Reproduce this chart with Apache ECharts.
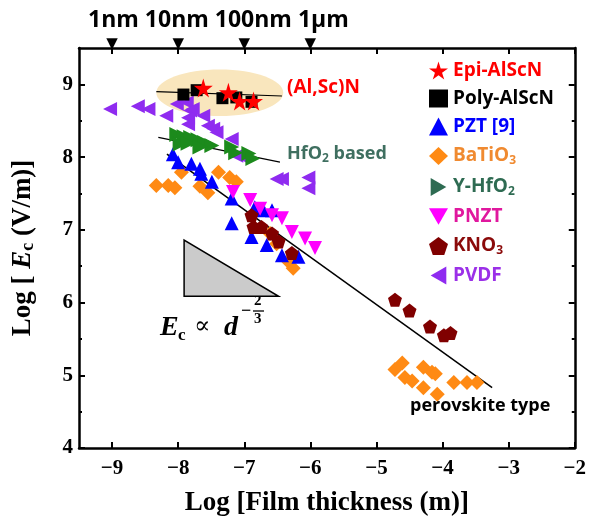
<!DOCTYPE html>
<html>
<head>
<meta charset="utf-8">
<script src="https://cdn.jsdelivr.net/npm/echarts@6/dist/echarts.min.js"></script>
<style>
  html, body { margin: 0; padding: 0; background: #fff; }
  #main { width: 589px; height: 522px; }
</style>
</head>
<body>
<div id="main"></div>
<script>
// axis ticks
var xTicks = [-9, -8, -7, -6, -5, -4, -3, -2];
var yTicks = [4, 5, 6, 7, 8, 9];
var topMarks = [-9, -8, -7, -6];
var topText = '1nm 10nm 100nm 1μm';

// data (log thickness, log Ec)
var epiX = [-7.62, -7.24, -7.07, -6.86];
var epiY = [8.95, 8.89, 8.77, 8.77];
var polyX = [-7.92, -7.72, -7.33, -7.12, -6.89];
var polyY = [8.86, 8.92, 8.81, 8.82, 8.76];
var pztX = [-8.08, -8.00, -7.80, -7.67, -7.65, -7.49, -7.19, -6.84, -6.71, -6.58, -7.19, -6.89, -6.66, -6.43, -6.18];
var pztY = [8.04, 7.93, 7.91, 7.84, 7.77, 7.66, 7.43, 7.31, 7.27, 7.27, 7.09, 6.90, 6.79, 6.65, 6.63];
var batX = [-8.33, -8.15, -8.05, -7.95, -7.67, -7.55, -7.39, -7.22, -7.12, -6.61, -6.51, -6.33, -6.26,
            -4.61, -4.72, -4.57, -4.46, -4.29, -4.16, -4.11, -4.29, -4.08, -3.83, -3.63, -3.48];
var batY = [7.61, 7.61, 7.58, 7.79, 7.60, 7.51, 7.79, 7.72, 7.66, 6.95, 6.81, 6.56, 6.47,
            5.17, 5.08, 4.97, 4.92, 5.11, 5.04, 5.02, 4.83, 4.74, 4.90, 4.90, 4.90];
var hfX = [-8.02, -7.91, -7.81, -7.70, -7.60, -7.49, -7.19, -7.13, -6.93, -6.87, -7.97, -7.85, -7.67];
var hfY = [8.31, 8.28, 8.27, 8.24, 8.20, 8.16, 8.14, 8.06, 8.05, 7.98, 8.18, 8.19, 8.14];
var pnztX = [-7.17, -6.91, -6.76, -6.58, -6.43, -6.28, -6.08, -5.93];
var pnztY = [7.52, 7.41, 7.29, 7.20, 7.16, 6.97, 6.88, 6.75];
var knoX = [-6.89, -6.86, -6.74, -6.58, -6.48, -6.28, -4.72, -4.50, -4.19, -3.98, -3.88];
var knoY = [7.20, 7.04, 7.04, 6.95, 6.84, 6.68, 6.04, 5.89, 5.67, 5.55, 5.58];
var pvdfX = [-9.03, -8.61, -8.45, -8.18, -8.02, -7.87, -7.82, -7.85, -7.78, -7.62, -7.85, -7.55, -7.47,
             -7.42, -7.19, -7.12, -7.07, -6.51, -6.43, -6.03, -6.03];
var pvdfY = [8.66, 8.70, 8.66, 8.57, 8.73, 8.75, 8.64, 8.54, 8.66, 8.57, 8.45, 8.43, 8.39,
             8.34, 8.25, 8.02, 8.02, 7.70, 7.70, 7.72, 7.57];

// guide lines
var alscnLineX = [-8.33, -6.43], alscnLineY = [8.90, 8.84];
var hfLineX = [-8.30, -6.46], hfLineY = [8.27, 7.93];
var perovLineX = [-8.17, -3.25], perovLineY = [8.04, 4.83];

// highlight ellipse (center x, center y, half width, half height)
var ellipse = [-7.37, 8.885, 0.96, 0.32];
// slope triangle
var slopeTriX = [-7.91, -7.91, -6.48];
var slopeTriY = [6.86, 6.085, 6.085];

function pairs(xs, ys) {
  return xs.map(function (x, i) { return [x, ys[i]]; });
}

var STAR = 'path://M50,0 L61,35 L98,35 L68,57 L79,91 L50,70 L21,91 L32,57 L2,35 L39,35 Z';
var DOWN = 'path://M0,0 L100,0 L50,87 Z';
var RIGHT = 'path://M0,0 L87,50 L0,100 Z';
var LEFT = 'path://M87,0 L0,50 L87,100 Z';
var PENT = 'path://M50,0 L98,35 L79,91 L21,91 L2,35 Z';

var serif = '"Liberation Serif", "DejaVu Serif", serif';
var sans = '"Open Sans", "Noto Sans", sans-serif';

var chart = echarts.init(document.getElementById('main'));

function scat(name, xs, ys, symbol, size, color, z) {
  return {
    name: name, type: 'scatter', data: pairs(xs, ys),
    symbol: symbol, symbolSize: size, z: z || 3,
    itemStyle: { color: color, opacity: 1 }
  };
}
function guide(xs, ys, width) {
  return {
    type: 'line', data: pairs(xs, ys), symbol: 'none', z: 2,
    lineStyle: { color: '#000', width: width }, silent: true
  };
}

var legendNames = ['Epi-AlScN', 'Poly-AlScN', 'PZT [9]', 'BaTiO3', 'Y-HfO2', 'PNZT', 'KNO3', 'PVDF'];
var legendColors = ['#ff0000', '#000000', '#0000ff', '#f08a30', '#2e6b52', '#e0189e', '#8b0a0a', '#9b30e8'];

var option = {
  animation: false,
  grid: { left: 79, right: 14, top: 48, bottom: 74 },
  legend: {
    orient: 'vertical', left: 424, top: 56,
    itemWidth: 19, itemHeight: 18, itemGap: 9,
    data: legendNames.map(function (n, i) {
      var d = { name: n, textStyle: { color: legendColors[i] } };
      if (n === 'Y-HfO2') d.itemStyle = { color: '#2e6b52' };
      return d;
    }),
    formatter: function (n) {
      return '{a|' + n.replace(/O3$/, 'O}{s|3}').replace(/O2$/, 'O}{s|2}') + (/O[23]$/.test(n) ? '' : '}');
    },
    textStyle: {
      rich: {
        a: { fontFamily: sans, fontWeight: 'bold', fontSize: 19, lineHeight: 18 },
        s: { fontFamily: sans, fontWeight: 'bold', fontSize: 12, lineHeight: 18, padding: [10, 0, 0, 0] }
      }
    }
  },
  xAxis: [{
    type: 'value', min: -9.5, max: -2, interval: 1,
    axisLine: { lineStyle: { color: '#000', width: 2.5 } },
    axisTick: { inside: true, length: 6, lineStyle: { width: 2 }, customValues: xTicks },
    minorTick: { show: true, splitNumber: 2, length: 3, lineStyle: { color: '#000', width: 2 } },
    splitLine: { show: false },
    axisLabel: {
      customValues: xTicks, margin: 10,
      fontFamily: serif, fontWeight: 'bold', fontSize: 21, color: '#000',
      formatter: function (v) { return '\u2212' + Math.abs(v); }
    },
    name: 'Log [Film thickness (m)]', nameLocation: 'middle', nameGap: 42,
    nameTextStyle: { fontFamily: serif, fontWeight: 'bold', fontSize: 27, color: '#000' }
  }, {
    type: 'value', position: 'top', min: -9.5, max: -2, interval: 1,
    axisLine: { lineStyle: { color: '#000', width: 2.5 } },
    axisTick: { inside: true, length: 6, lineStyle: { width: 2 }, customValues: xTicks },
    minorTick: { show: true, splitNumber: 2, length: 3, lineStyle: { color: '#000', width: 2 } },
    splitLine: { show: false },
    axisLabel: {
      customValues: topMarks, margin: -3,
      formatter: function () { return '{m|\u25BC}'; },
      rich: { m: { fontFamily: '"DejaVu Sans"', fontSize: 15, color: '#000', lineHeight: 14 } }
    }
  }],
  yAxis: [{
    type: 'value', min: 4, max: 9.5, interval: 1,
    axisLine: { lineStyle: { color: '#000', width: 2.5 } },
    axisTick: { inside: true, length: 6, lineStyle: { width: 2 }, customValues: yTicks },
    minorTick: { show: true, splitNumber: 2, length: 3, lineStyle: { color: '#000', width: 2 } },
    splitLine: { show: false },
    axisLabel: {
      customValues: yTicks, margin: 6,
      fontFamily: serif, fontWeight: 'bold', fontSize: 21, color: '#000'
    },
    name: '{a|Log [ }{e|E}{c|c}{a| (V/m)]}', nameLocation: 'middle', nameGap: 42,
    nameTextStyle: {
      rich: {
        a: { fontFamily: serif, fontWeight: 'bold', fontSize: 27, color: '#000' },
        e: { fontFamily: serif, fontWeight: 'bold', fontStyle: 'italic', fontSize: 27, color: '#000' },
        c: { fontFamily: serif, fontWeight: 'bold', fontSize: 18, color: '#000', padding: [10, 0, 0, 0] }
      }
    }
  }, {
    type: 'value', position: 'right', min: 4, max: 9.5, interval: 1,
    axisLine: { lineStyle: { color: '#000', width: 2.5 } },
    axisTick: { inside: true, length: 6, lineStyle: { width: 2 }, customValues: yTicks },
    minorTick: { show: true, splitNumber: 2, length: 3, lineStyle: { color: '#000', width: 2 } },
    splitLine: { show: false },
    axisLabel: { show: false }
  }],
  series: [
    {
      type: 'custom', silent: true, z: 1,
      renderItem: function (params, api) {
        var c = api.coord([ellipse[0], ellipse[1]]);
        var e = api.coord([ellipse[0] + ellipse[2], ellipse[1] + ellipse[3]]);
        return {
          type: 'ellipse',
          shape: { cx: c[0], cy: c[1], rx: Math.abs(e[0] - c[0]), ry: Math.abs(e[1] - c[1]) },
          style: { fill: '#f9e6bd' }
        };
      },
      data: [0]
    },
    {
      type: 'custom', silent: true, z: 1,
      renderItem: function (params, api) {
        var pts = slopeTriX.map(function (x, i) { return api.coord([x, slopeTriY[i]]); });
        return {
          type: 'polygon', shape: { points: pts },
          style: { fill: '#cbcbcb', stroke: '#000', lineWidth: 1.5 }
        };
      },
      data: [0]
    },
    guide(alscnLineX, alscnLineY, 1.2),
    guide(hfLineX, hfLineY, 1.2),
    guide(perovLineX, perovLineY, 1.5),
    scat('PVDF', pvdfX, pvdfY, LEFT, 14, '#8f2bf0', 3),
    scat('BaTiO3', batX, batY, 'diamond', 15, '#ff8a14', 3),
    scat('PZT [9]', pztX, pztY, 'triangle', 14, '#0000ff', 4),
    scat('PNZT', pnztX, pnztY, DOWN, 14, '#ff00ff', 4),
    scat('KNO3', knoX, knoY, PENT, 14, '#800000', 5),
    scat('Y-HfO2', hfX, hfY, RIGHT, 15, '#1c8a1c', 4),
    scat('Poly-AlScN', polyX, polyY, 'rect', 12, '#000000', 6),
    scat('Epi-AlScN', epiX, epiY, STAR, 19, '#ff0000', 7)
  ],
  graphic: [
    { type: 'text', left: 88, top: 9, z: 10,
      style: { text: topText, fill: '#000', font: 'bold 23px ' + sans } },
    { type: 'text', left: 287, top: 78, z: 10,
      style: { text: '(Al,Sc)N', fill: '#ff0000', font: 'bold 19px ' + sans } },
    { type: 'text', left: 287, top: 145, z: 10,
      style: { text: '{a|HfO}{s|2}{a| based}', fill: '#3f6f60',
        rich: { a: { font: 'bold 18px ' + sans, fill: '#3f6f60' },
                s: { font: 'bold 12px ' + sans, fill: '#3f6f60', padding: [10, 0, 0, 0] } } } },
    { type: 'text', left: 410, top: 397, z: 10,
      style: { text: 'perovskite type', fill: '#000', font: 'bold 18px ' + sans } },
    { type: 'group', left: 160, top: 294, z: 10, children: [
      { type: 'text', x: 0, y: 20, style: { text: 'E', font: 'italic bold 28px ' + serif, fill: '#000' } },
      { type: 'text', x: 18, y: 33, style: { text: 'c', font: 'bold 17px ' + serif, fill: '#000' } },
      { type: 'text', x: 34, y: 21, style: { text: '\u221D', font: '24px "DejaVu Serif"', fill: '#000' } },
      { type: 'text', x: 64, y: 20, style: { text: 'd', font: 'italic bold 28px ' + serif, fill: '#000' } },
      { type: 'text', x: 81, y: 8, style: { text: '\u2212', font: 'bold 18px ' + serif, fill: '#000' } },
      { type: 'text', x: 94, y: 0, style: { text: '2', font: 'bold 15px ' + serif, fill: '#000' } },
      { type: 'line', shape: { x1: 93, y1: 17, x2: 104, y2: 17 }, style: { stroke: '#000', lineWidth: 1.3 } },
      { type: 'text', x: 94, y: 18, style: { text: '3', font: 'bold 15px ' + serif, fill: '#000' } }
    ] }
  ]
};

chart.setOption(option);
</script>
</body>
</html>
